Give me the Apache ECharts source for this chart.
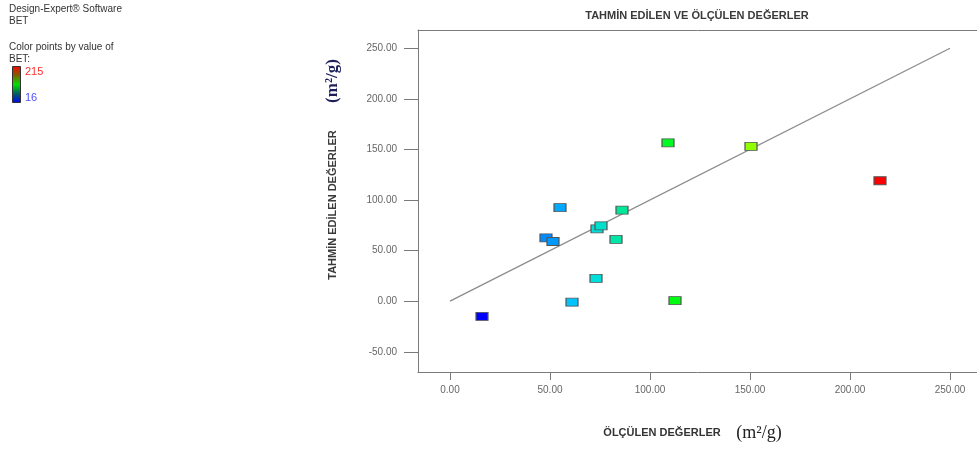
<!DOCTYPE html>
<html><head><meta charset="utf-8">
<script src="https://cdn.jsdelivr.net/npm/echarts@6/dist/echarts.min.js"></script>
<style>html,body{margin:0;padding:0;background:#fff}#c{width:977px;height:449px}</style>
</head><body><div id="c"></div>
<script>
// Measured (actual) BET values, m2/g
var actual = [16, 48, 51.5, 55, 61, 73, 73.5, 75.5, 83, 86, 109, 112.5, 150.5, 215];
// Predicted BET values, m2/g
var predicted = [-15, 62.5, 59, 92.5, -1, 22.5, 71.5, 74.5, 61, 90, 156.5, 0.5, 153, 119];
// Reference line y = x
var lineX = [0, 250];
var lineY = [0, 250];
var tickValues = [0, 50, 100, 150, 200, 250];
var yTickValues = [-50, 0, 50, 100, 150, 200, 250];
var colorMin = 16, colorMax = 215;

var pts = actual.map(function (a, i) { return [a, predicted[i], a]; });
var linePts = lineX.map(function (x, i) { return [x, lineY[i]]; });

var font = '"Liberation Sans", Arial, sans-serif';
var frame = { show: true, onZero: false, lineStyle: { color: '#7a7a7a', width: 1 } };
var chart = echarts.init(document.getElementById('c'));
chart.setOption({
  animation: false,
  backgroundColor: '#fff',
  title: {
    text: 'TAHMİN EDİLEN VE ÖLÇÜLEN DEĞERLER',
    left: 692, top: 5, textAlign: 'center',
    textStyle: { fontFamily: font, fontSize: 11, fontWeight: 'bold', color: '#3a3a3a' }
  },
  grid: { left: 418, top: 30, right: 0, bottom: 77, show: false },
  xAxis: [{
    type: 'value', min: -16, max: 263.5,
    axisLine: frame,
    splitLine: { show: false },
    axisTick: { show: true, customValues: tickValues, length: 8, lineStyle: { color: '#7a7a7a' } },
    axisLabel: { customValues: tickValues, margin: 13, fontFamily: font, fontSize: 10, color: '#666',
      formatter: function (v) { return v.toFixed(2); } }
  }, {
    type: 'value', position: 'top', min: -16, max: 263.5,
    axisLine: frame, axisTick: { show: false }, axisLabel: { show: false }, splitLine: { show: false }
  }],
  yAxis: {
    type: 'value', min: -70, max: 268,
    axisLine: frame,
    splitLine: { show: false },
    axisTick: { show: true, customValues: yTickValues, length: 14, lineStyle: { color: '#7a7a7a' } },
    axisLabel: { customValues: yTickValues, margin: 21, fontFamily: font, fontSize: 10, color: '#666',
      formatter: function (v) { return v.toFixed(2); } }
  },
  visualMap: {
    type: 'continuous', min: colorMin, max: colorMax, dimension: 2, seriesIndex: 1,
    show: false,
    inRange: { color: ['#0000ff', '#00d8ff', '#00ff00', '#ccff00', '#ff0000'] }
  },
  graphic: [
    { type: 'text', left: 9, top: 3, style: { text: 'Design-Expert® Software\nBET', fontFamily: font, fontSize: 10, fill: '#333', lineHeight: 12 } },
    { type: 'text', left: 9, top: 41, style: { text: 'Color points by value of\nBET:', fontFamily: font, fontSize: 10, fill: '#333', lineHeight: 12 } },
    { type: 'rect', shape: { x: 12.5, y: 66.5, width: 8, height: 36 },
      style: { stroke: '#333', lineWidth: 1,
        fill: new echarts.graphic.LinearGradient(0, 0, 0, 1, [
          { offset: 0, color: '#ff0000' }, { offset: 0.25, color: '#806000' },
          { offset: 0.5, color: '#00e000' }, { offset: 0.75, color: '#006060' },
          { offset: 1, color: '#0000ff' }]) } },
    { type: 'text', left: 25, top: 66, style: { text: String(colorMax), fontFamily: font, fontSize: 11, fill: '#ff3030' } },
    { type: 'text', left: 25, top: 92, style: { text: String(colorMin), fontFamily: font, fontSize: 11, fill: '#5050ff' } },
    { type: 'text', x: 333, y: 205, rotation: Math.PI / 2,
      style: { text: 'TAHMİN EDİLEN DEĞERLER', fontFamily: font, fontSize: 11, fill: '#3a3a3a', fontWeight: 'bold', align: 'center', verticalAlign: 'middle' } },
    { type: 'text', x: 333, y: 81, rotation: Math.PI / 2,
      style: { text: '(m²/g)', fontFamily: '"Liberation Serif", "Times New Roman", serif', fontSize: 17, fontWeight: 'bold', fill: '#1c1f5a', align: 'center', verticalAlign: 'middle' } },
    { type: 'text', x: 662, y: 433,
      style: { text: 'ÖLÇÜLEN DEĞERLER', fontFamily: font, fontSize: 11, fill: '#333', fontWeight: 'bold', align: 'center', verticalAlign: 'middle' } },
    { type: 'text', x: 759, y: 433,
      style: { text: '(m²/g)', fontFamily: '"Liberation Serif", "Times New Roman", serif', fontSize: 18, fill: '#222', align: 'center', verticalAlign: 'middle' } }
  ],
  series: [
    { type: 'line', data: linePts, symbol: 'none', silent: true,
      lineStyle: { color: '#8c8c8c', width: 1.3 }, z: 2 },
    { type: 'scatter', data: pts, symbol: 'rect', symbolSize: [12, 8], z: 3,
      itemStyle: { borderColor: '#555', borderWidth: 1, opacity: 1 } }
  ]
});
</script></body></html>
